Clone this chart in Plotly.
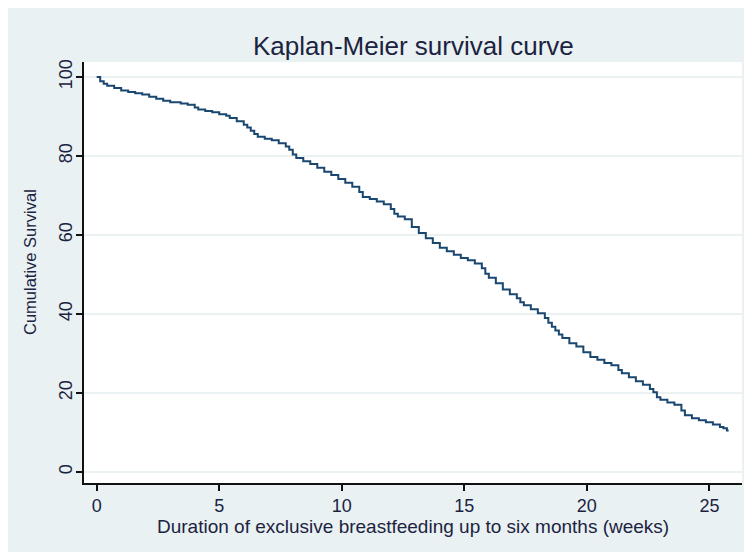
import plotly.graph_objects as go

# Kaplan-Meier estimate (time in days, survival in %)
days = [0, 1, 2, 3, 5, 7, 9, 11, 13, 15, 17, 19, 21, 24, 26, 28, 29, 31, 33, 35,
        37, 38, 40, 42, 43, 44, 45, 46, 48, 50, 52, 54, 55, 56, 57, 59, 61, 63, 65, 67,
        69, 71, 73, 75, 76, 78, 80, 82, 84, 85, 86, 88, 90, 92, 94, 96, 98, 100, 102, 104,
        106, 108, 110, 111, 112, 114, 116, 118, 120, 121, 122, 124, 126, 128, 129, 130, 131, 132, 133, 135,
        137, 139, 141, 143, 145, 147, 149, 150, 152, 154, 156, 158, 159, 160, 161, 163, 165, 167, 168, 170,
        172, 174, 176, 178, 179, 180, 180.5]
survival = [100, 98.9, 98.3, 97.8, 97.2, 96.6, 96.2, 95.9, 95.6, 95.0, 94.5, 94.0, 93.6, 93.3, 93.0, 92.3, 91.8, 91.4, 91.1, 90.6,
            90.2, 89.6, 88.8, 87.9, 87.2, 86.4, 85.6, 84.9, 84.4, 84.0, 83.2, 82.4, 81.6, 80.4, 79.5, 78.7, 78.0, 77.0, 76.0, 75.2,
            74.2, 73.2, 72.2, 70.9, 69.6, 69.1, 68.5, 67.8, 66.6, 65.4, 64.7, 64.0, 62.0, 60.5, 59.2, 58.0, 56.8, 55.9, 55.0, 54.2,
            53.6, 52.8, 51.6, 50.2, 49.2, 47.8, 46.2, 45.0, 44.0, 43.0, 42.2, 41.2, 40.2, 39.0, 37.8, 36.8, 35.8, 34.8, 33.9, 32.6,
            31.8, 30.3, 29.1, 28.4, 27.6, 27.0, 25.8, 25.0, 24.0, 23.0, 22.1, 21.0, 20.2, 18.9, 18.3, 17.6, 17.0, 15.6, 14.4, 13.6,
            13.1, 12.6, 12.0, 11.4, 11.1, 10.5, 10.5]
weeks = [d / 7 for d in days]

x_ticks = [0, 5, 10, 15, 20, 25]
y_ticks = [0, 20, 40, 60, 80, 100]

title_text = "Kaplan-Meier survival curve"
x_title = "Duration of exclusive breastfeeding up to six months (weeks)"
y_title = "Cumulative Survival"

# figure sits 8px into the page (browser body margin)
W, H = 744, 544
OFF = 8
L, R, T, B = 76, 10, 54, 69
pw, ph = W - L - R, H - T - B

FONT = "Arial, 'Liberation Sans', sans-serif"
BG = "#e9f1f3"
INK = "#1c2340"

fig = go.Figure()
fig.add_trace(go.Scatter(
    x=weeks, y=survival, mode="lines", line_shape="hv",
    line=dict(color="#1a476f", width=2), showlegend=False, hoverinfo="x+y"))

def px_x(p):
    return (p - OFF - L) / pw

def px_y(p):
    return (H - B - (p - OFF)) / ph

annotations = [
    dict(text=title_text, xref="paper", yref="paper", x=0.5, y=px_y(46), xanchor="center", yanchor="middle",
         showarrow=False, font=dict(family=FONT, size=26, color=INK)),
    dict(text=x_title, xref="paper", yref="paper", x=0.5, y=px_y(526), xanchor="center", yanchor="middle",
         showarrow=False, font=dict(family=FONT, size=19, color=INK)),
    dict(text=y_title, xref="paper", yref="paper", x=px_x(30), y=px_y(262), xanchor="center", yanchor="middle",
         textangle=-90, showarrow=False, font=dict(family=FONT, size=16.5, color=INK)),
]

fig.update_layout(
    width=W, height=H,
    margin=dict(l=L, r=R, t=T, b=B, pad=0),
    paper_bgcolor=BG, plot_bgcolor="white",
    annotations=annotations,
    xaxis=dict(range=[-0.518, 26.33], tickvals=x_ticks, ticktext=[str(v) for v in x_ticks],
               showgrid=False, zeroline=False, showline=True, linecolor="#111", linewidth=1.5,
               ticks="outside", ticklen=6, tickwidth=1.5, tickcolor="#111",
               tickfont=dict(family=FONT, size=18, color=INK)),
    yaxis=dict(range=[-2.78, 103.8], tickvals=y_ticks, ticktext=[str(v) for v in y_ticks],
               showgrid=True, gridcolor="#eaf2f3", gridwidth=1.5, zeroline=False,
               showline=True, linecolor="#111", linewidth=1.5,
               ticks="outside", ticklen=6, tickwidth=1.5, tickcolor="#111", tickangle=-90,
               ticklabelstandoff=-3,
               tickfont=dict(family=FONT, size=18, color=INK)),
)

fig.write_html("out.html")
